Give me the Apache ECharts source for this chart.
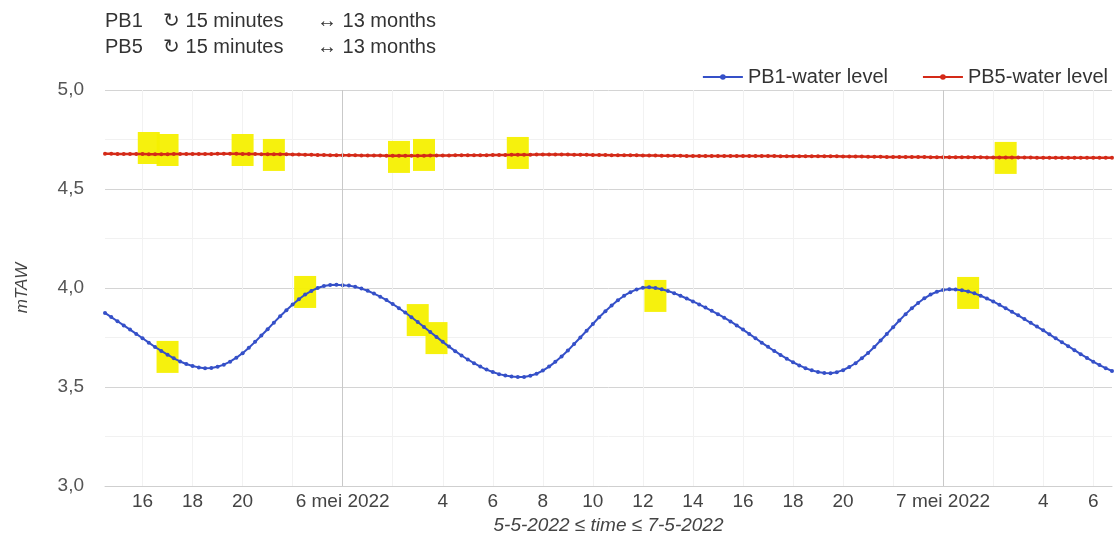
<!DOCTYPE html>
<html>
<head>
<meta charset="utf-8">
<script src="https://cdn.jsdelivr.net/npm/echarts@6/dist/echarts.min.js"></script>
<style>
html, body { margin: 0; padding: 0; background: #fff; }
#main { width: 1116px; height: 537px; }
</style>
</head>
<body>
<div id="main"></div>
<script>
// 15 minute readings, 5-5-2022 14:30 -> 7-5-2022 06:45
var startDay = 5, startMinute = 14 * 60 + 30, stepMinutes = 15;

var pb1 = [
  3.874, 3.853, 3.832, 3.811, 3.790, 3.768, 3.746, 3.724,
  3.702, 3.682, 3.663, 3.645, 3.629, 3.616, 3.606, 3.599,
  3.595, 3.596, 3.602, 3.613, 3.628, 3.648, 3.671, 3.698,
  3.728, 3.760, 3.792, 3.825, 3.857, 3.888, 3.917, 3.943,
  3.967, 3.985, 4.000, 4.010, 4.015, 4.016, 4.014, 4.012,
  4.006, 3.997, 3.986, 3.972, 3.956, 3.939, 3.919, 3.898,
  3.876, 3.852, 3.828, 3.803, 3.778, 3.753, 3.728, 3.704,
  3.681, 3.659, 3.639, 3.620, 3.603, 3.588, 3.576, 3.565,
  3.558, 3.553, 3.550, 3.551, 3.557, 3.567, 3.583, 3.603,
  3.627, 3.654, 3.684, 3.717, 3.750, 3.784, 3.818, 3.852,
  3.883, 3.912, 3.938, 3.961, 3.979, 3.993, 4.001, 4.004,
  4.000, 3.994, 3.985, 3.974, 3.961, 3.947, 3.932, 3.917,
  3.901, 3.885, 3.868, 3.850, 3.831, 3.811, 3.790, 3.768,
  3.746, 3.724, 3.703, 3.682, 3.662, 3.643, 3.625, 3.609,
  3.595, 3.584, 3.576, 3.571, 3.570, 3.575, 3.585, 3.601,
  3.620, 3.645, 3.672, 3.702, 3.735, 3.768, 3.802, 3.836,
  3.868, 3.898, 3.924, 3.948, 3.967, 3.981, 3.990, 3.994,
  3.993, 3.989, 3.982, 3.973, 3.961, 3.947, 3.932, 3.915,
  3.898, 3.880, 3.862, 3.843, 3.824, 3.805, 3.786, 3.766,
  3.746, 3.726, 3.706, 3.686, 3.666, 3.647, 3.628, 3.611,
  3.595, 3.581
];

var pb5 = [
  4.678, 4.678, 4.677, 4.677, 4.677, 4.677, 4.677, 4.676,
  4.676, 4.676, 4.676, 4.677, 4.677, 4.677, 4.677, 4.677,
  4.677, 4.677, 4.678, 4.678, 4.678, 4.678, 4.677, 4.677,
  4.677, 4.676, 4.676, 4.676, 4.675, 4.675, 4.674, 4.674,
  4.673, 4.673, 4.672, 4.672, 4.671, 4.671, 4.670, 4.670,
  4.670, 4.669, 4.669, 4.669, 4.669, 4.668, 4.668, 4.668,
  4.668, 4.668, 4.668, 4.668, 4.669, 4.669, 4.669, 4.669,
  4.670, 4.670, 4.670, 4.671, 4.671, 4.671, 4.672, 4.672,
  4.672, 4.673, 4.673, 4.673, 4.673, 4.674, 4.674, 4.674,
  4.674, 4.674, 4.674, 4.673, 4.673, 4.673, 4.672, 4.672,
  4.672, 4.671, 4.671, 4.670, 4.670, 4.670, 4.669, 4.669,
  4.669, 4.668, 4.668, 4.668, 4.668, 4.667, 4.667, 4.667,
  4.667, 4.667, 4.667, 4.667, 4.667, 4.667, 4.667, 4.667,
  4.667, 4.667, 4.667, 4.667, 4.666, 4.666, 4.666, 4.666,
  4.666, 4.666, 4.665, 4.665, 4.665, 4.665, 4.664, 4.664,
  4.664, 4.664, 4.663, 4.663, 4.663, 4.662, 4.662, 4.662,
  4.662, 4.661, 4.661, 4.661, 4.660, 4.660, 4.660, 4.660,
  4.660, 4.660, 4.660, 4.660, 4.660, 4.659, 4.659, 4.659,
  4.659, 4.659, 4.659, 4.659, 4.659, 4.658, 4.658, 4.658,
  4.658, 4.658, 4.658, 4.658, 4.658, 4.658, 4.658, 4.658,
  4.658, 4.658
];

// yellow highlight squares [time, level]
var highlights = [
  ['2022-05-05 16:15', 4.707], ['2022-05-05 17:00', 4.697],
  ['2022-05-05 20:00', 4.697], ['2022-05-05 21:15', 4.672],
  ['2022-05-06 02:15', 4.662], ['2022-05-06 03:15', 4.672],
  ['2022-05-06 07:00', 4.682], ['2022-05-07 02:30', 4.657],
  ['2022-05-05 17:00', 3.652], ['2022-05-05 22:30', 3.980],
  ['2022-05-06 03:00', 3.838], ['2022-05-06 03:45', 3.747],
  ['2022-05-06 12:30', 3.960], ['2022-05-07 01:00', 3.975]
];

var dayLines = ['2022-05-06 00:00', '2022-05-07 00:00'];

var headerRows = [
  ['PB1', '↻ 15 minutes', '↔ 13 months'],
  ['PB5', '↻ 15 minutes', '↔ 13 months']
];

function pad(n) { return (n < 10 ? '0' : '') + n; }

var times = [];
for (var k = 0; k < pb1.length; k++) {
  var m = startMinute + k * stepMinutes;
  var d = startDay + Math.floor(m / 1440);
  m = m % 1440;
  times.push('2022-05-' + pad(d) + ' ' + pad(Math.floor(m / 60)) + ':' + pad(m % 60));
}

function hourOf(v) { return parseInt(v.substr(11, 2), 10); }
function onEvenHour(v) { return v.substr(14, 2) === '00' && hourOf(v) % 2 === 0; }

var font = 'Liberation Sans';

var headerText = headerRows.map(function (r) {
  return '{a|' + r[0] + '}{b|' + r[1] + '}{c|' + r[2] + '}';
}).join('\n');

var headStyle = { fontFamily: font, fontSize: 20, fontWeight: 'normal', color: '#333', lineHeight: 26 };

var myChart = echarts.init(document.getElementById('main'));

option = {
  animation: false,
  textStyle: { fontFamily: font },
  title: {
    text: headerText,
    left: 100,
    top: 3,
    textStyle: {
      fontFamily: font, fontSize: 20, fontWeight: 'normal', color: '#333', lineHeight: 26,
      rich: {
        a: Object.assign({ width: 58 }, headStyle),
        b: Object.assign({ width: 154 }, headStyle),
        c: headStyle
      }
    }
  },
  legend: {
    data: ['PB1-water level', 'PB5-water level'],
    right: 3,
    top: 62,
    itemWidth: 40,
    itemHeight: 7,
    itemGap: 34,
    textStyle: { fontFamily: font, fontSize: 20, color: '#333' }
  },
  grid: { left: 105, right: 4, top: 90, bottom: 51, containLabel: false, outerBoundsMode: 'none' },
  xAxis: {
    type: 'category',
    data: times,
    boundaryGap: false,
    name: '5-5-2022 ≤ time ≤ 7-5-2022',
    nameLocation: 'middle',
    nameGap: 29,
    nameTextStyle: { fontFamily: font, fontSize: 19, fontStyle: 'italic', color: '#444' },
    axisLine: { show: true, lineStyle: { color: '#cfcfcf' } },
    axisTick: { show: false },
    axisLabel: {
      interval: function (i, v) {
        var h = hourOf(v);
        return onEvenHour(v) && h !== 22 && h !== 2;
      },
      formatter: function (v) {
        var h = hourOf(v);
        if (h === 0) return parseInt(v.substr(8, 2), 10) + ' mei 2022';
        return String(h);
      },
      fontSize: 19,
      color: '#444',
      margin: 6
    },
    splitLine: {
      show: true,
      interval: function (i, v) { return onEvenHour(v); },
      lineStyle: { color: '#f2f2f2' }
    }
  },
  yAxis: {
    type: 'value',
    min: 3,
    max: 5,
    interval: 0.5,
    name: 'mTAW',
    nameLocation: 'middle',
    nameGap: 74,
    nameTextStyle: { fontFamily: font, fontSize: 17, fontStyle: 'italic', color: '#444' },
    axisLine: { show: false },
    axisTick: { show: false },
    axisLabel: {
      formatter: function (v) { return v.toFixed(1).replace('.', ','); },
      fontSize: 19,
      color: '#555',
      margin: 21
    },
    splitLine: { lineStyle: { color: '#d4d4d4' } },
    minorTick: { show: false, splitNumber: 2 },
    minorSplitLine: { show: true, lineStyle: { color: '#f1f1f1' } }
  },
  series: [
    {
      name: 'markers',
      type: 'scatter',
      data: highlights,
      symbol: 'rect',
      symbolSize: [22, 32],
      itemStyle: { color: '#f6f000', opacity: 0.95 },
      silent: true,
      z: 1
    },
    {
      name: 'PB1-water level',
      type: 'line',
      data: pb1,
      color: '#4161d6',
      symbol: 'circle',
      symbolSize: 4,
      showAllSymbol: true,
      lineStyle: { width: 2 },
      itemStyle: { color: '#3550c8' },
      z: 3,
      markLine: {
        silent: true,
        symbol: 'none',
        label: { show: false },
        lineStyle: { color: '#c9c9c9', type: 'solid', width: 1 },
        data: dayLines.map(function (t) { return { xAxis: t }; })
      }
    },
    {
      name: 'PB5-water level',
      type: 'line',
      data: pb5,
      color: '#e2331f',
      symbol: 'circle',
      symbolSize: 4,
      showAllSymbol: true,
      lineStyle: { width: 2.5 },
      itemStyle: { color: '#d42a18' },
      z: 3
    }
  ]
};

myChart.setOption(option);
</script>
</body>
</html>
